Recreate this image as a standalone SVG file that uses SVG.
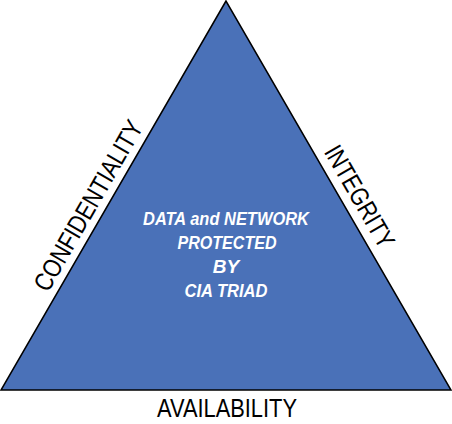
<svg xmlns="http://www.w3.org/2000/svg" width="452" height="424" viewBox="0 0 452 424">
<style>
.lbl{font-family:"Liberation Sans",Arial,sans-serif;font-size:26px;fill:#000;text-anchor:middle}
.ctr{font-family:"Liberation Sans",Arial,sans-serif;font-size:19px;font-weight:bold;font-style:italic;fill:#fff;text-anchor:middle}
</style>
<rect width="452" height="424" fill="#fff"/>
<g id="triangle">
<polygon points="226,1 1,390 451,390" fill="#4a71b8" stroke="#000" stroke-width="1.5" stroke-linejoin="miter"/>
</g>
<g id="center-text">
<text class="ctr" x="226" y="225" textLength="166" lengthAdjust="spacingAndGlyphs">DATA and NETWORK</text>
<text class="ctr" x="227" y="249" textLength="99" lengthAdjust="spacingAndGlyphs">PROTECTED</text>
<text class="ctr" x="226" y="273">BY</text>
<text class="ctr" x="226" y="297" textLength="83" lengthAdjust="spacingAndGlyphs">CIA TRIAD</text>
</g>
<g id="confidentiality">
<text class="lbl" transform="translate(96,210) rotate(-60)" textLength="192" lengthAdjust="spacingAndGlyphs">CONFIDENTIALITY</text>
</g>
<g id="integrity">
<text class="lbl" transform="translate(352,201) rotate(60)" textLength="114" lengthAdjust="spacingAndGlyphs">INTEGRITY</text>
</g>
<g id="availability">
<text class="lbl" x="227" y="417" textLength="140" lengthAdjust="spacingAndGlyphs">AVAILABILITY</text>
</g>
</svg>
